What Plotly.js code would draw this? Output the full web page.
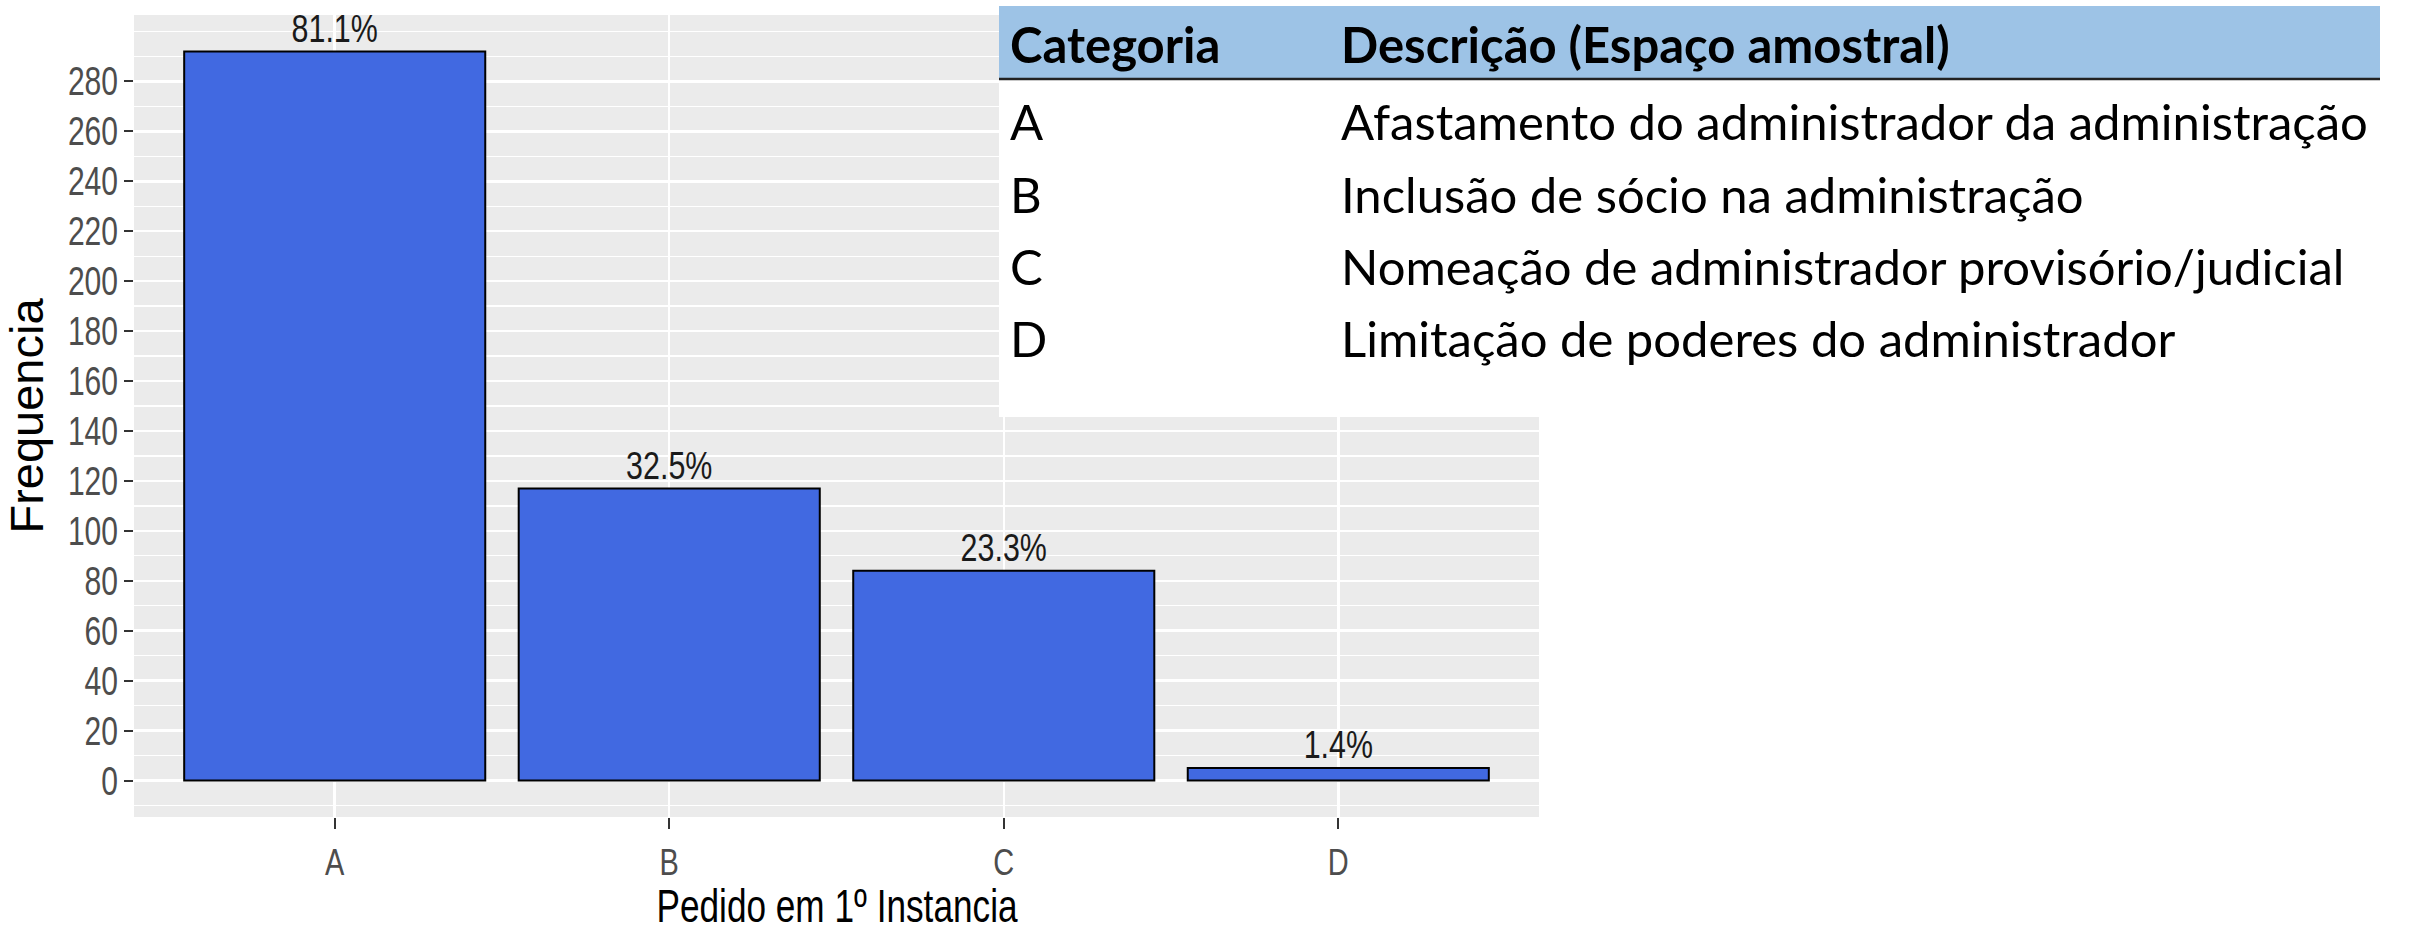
<!DOCTYPE html>
<html>
<head>
<meta charset="utf-8">
<script src="https://cdn.plot.ly/plotly-3.0.1.min.js"></script>
<style>
  html, body { margin: 0; padding: 0; background: #ffffff; }
  #chart { width: 2413px; height: 937px; }
</style>
</head>
<body>
<div id="chart"></div>
<script>
// ---- data ----
const categories = ['A', 'B', 'C', 'D'];
const frequencies = [292, 117, 84, 5];
const percentLabels = ['81.1%', '32.5%', '23.3%', '1.4%'];
const yTickValues = [0, 20, 40, 60, 80, 100, 120, 140, 160, 180, 200, 220, 240, 260, 280];
const xTitle = 'Pedido em 1º Instancia';
const yTitle = 'Frequencia';

const tableHeader = ['Categoria', 'Descrição (Espaço amostral)'];
const tableCategories = ['A', 'B', 'C', 'D'];
const tableDescriptions = [
  'Afastamento do administrador da administração',
  'Inclusão de sócio na administração',
  'Nomeação de administrador provisório/judicial',
  'Limitação de poderes do administrador'
];

// ---- layout geometry ----
const W = 2413, H = 937;
const M = { l: 134, r: 874, t: 15, b: 120 };
const plotW = W - M.l - M.r, plotH = H - M.t - M.b;
const px = x => (x - M.l) / plotW;          // page pixel -> paper x
const py = y => (H - M.b - y) / plotH;      // page pixel -> paper y

const chartFont = 'Liberation Sans, Arial, sans-serif';
const tableFont = 'Lato, Open Sans, sans-serif';
const tableSize = 49;

const barTrace = {
  type: 'bar',
  x: categories,
  y: frequencies,
  width: 0.9,
  marker: { color: '#4169E1', line: { color: '#000000', width: 2 } },
  hoverinfo: 'x+y',
  showlegend: false
};

const labelTrace = {
  type: 'scatter',
  mode: 'text',
  x: categories,
  y: frequencies,
  text: percentLabels,
  textposition: 'top center',
  textfont: { family: chartFont, size: 39, color: '#1a1a1a' },
  cliponaxis: false,
  hoverinfo: 'skip',
  showlegend: false
};

const annotations = [];
// x-axis title (annotation, so it can sit low in the bottom margin like the reference)
annotations.push({
  xref: 'paper', yref: 'paper', x: 0.5, y: py(934),
  xanchor: 'center', yanchor: 'bottom', showarrow: false,
  text: xTitle, font: { family: chartFont, size: 46, color: '#000000' }
});

const tableColX = [1008, 1339];
const headerY = 44;
const rowY = [121, 194, 266, 338];
tableHeader.forEach((h, i) => {
  annotations.push({
    xref: 'paper', yref: 'paper', x: px(tableColX[i]), y: py(headerY),
    xanchor: 'left', yanchor: 'middle', showarrow: false,
    text: '<b>' + h + '</b>',
    font: { family: tableFont, size: tableSize, color: '#000000' }
  });
});
tableCategories.forEach((c, i) => {
  annotations.push({
    xref: 'paper', yref: 'paper', x: px(tableColX[0]), y: py(rowY[i]),
    xanchor: 'left', yanchor: 'middle', showarrow: false,
    text: c, font: { family: tableFont, size: tableSize, color: '#000000' }
  });
  annotations.push({
    xref: 'paper', yref: 'paper', x: px(tableColX[1]), y: py(rowY[i]),
    xanchor: 'left', yanchor: 'middle', showarrow: false,
    text: tableDescriptions[i], font: { family: tableFont, size: tableSize, color: '#000000' }
  });
});

const shapes = [
  { type: 'rect', xref: 'paper', yref: 'paper', layer: 'above',
    x0: px(999), x1: px(W), y0: py(417), y1: py(0),
    fillcolor: '#ffffff', line: { width: 0 } },
  { type: 'rect', xref: 'paper', yref: 'paper', layer: 'above',
    x0: px(999), x1: px(2380), y0: py(79), y1: py(6),
    fillcolor: '#9DC3E6', line: { width: 0 } },
  { type: 'line', xref: 'paper', yref: 'paper', layer: 'above',
    x0: px(999), x1: px(2380), y0: py(79), y1: py(79),
    line: { color: '#222222', width: 2.5 } }
];

const layout = {
  width: W, height: H,
  margin: M,
  paper_bgcolor: '#ffffff',
  plot_bgcolor: '#EBEBEB',
  showlegend: false,
  xaxis: {
    type: 'category',
    range: [-0.6, 3.6],
    showgrid: true, gridcolor: '#ffffff', gridwidth: 2.5,
    zeroline: false, showline: false,
    ticks: 'outside', ticklen: 11, tickwidth: 2, tickcolor: '#333333',
    tickfont: { family: chartFont, size: 37, color: '#4D4D4D' },
    ticklabelstandoff: 2,
    automargin: false,
    fixedrange: true
  },
  yaxis: {
    range: [-14.6, 306.6],
    tickmode: 'array',
    tickvals: yTickValues,
    ticktext: yTickValues.map(String),
    showgrid: true, gridcolor: '#ffffff', gridwidth: 2.5,
    minor: { dtick: 10, tick0: 0, showgrid: true, gridcolor: '#ffffff', gridwidth: 1.3, ticks: '' },
    zeroline: false, showline: false,
    ticks: 'outside', ticklen: 9, tickwidth: 2, tickcolor: '#333333',
    tickfont: { family: chartFont, size: 40, color: '#4D4D4D' },
    ticklabelstandoff: -2,
    title: { text: yTitle, font: { family: chartFont, size: 47, color: '#000000' }, standoff: 10 },
    automargin: false,
    fixedrange: true
  },
  annotations: annotations,
  shapes: shapes
};

// The reference chart's text is horizontally condensed; squeeze glyphs with SVG textLength.
function condense(gd, selector, factor, onlyText) {
  gd.querySelectorAll(selector).forEach(t => {
    if (onlyText && t.textContent !== onlyText) return;
    const len = t.getComputedTextLength();
    if (len > 0) {
      t.setAttribute('textLength', (len * factor).toFixed(1));
      t.setAttribute('lengthAdjust', 'spacingAndGlyphs');
    }
  });
}

Plotly.newPlot('chart', [barTrace, labelTrace], layout, { displayModeBar: false, staticPlot: true })
  .then(gd => {
    condense(gd, '.xtick text', 0.78);
    condense(gd, '.ytick text', 0.75);
    condense(gd, '.annotation-text', 0.765, xTitle);
    condense(gd, '.textpoint text', 0.78);
  });
</script>
</body>
</html>
